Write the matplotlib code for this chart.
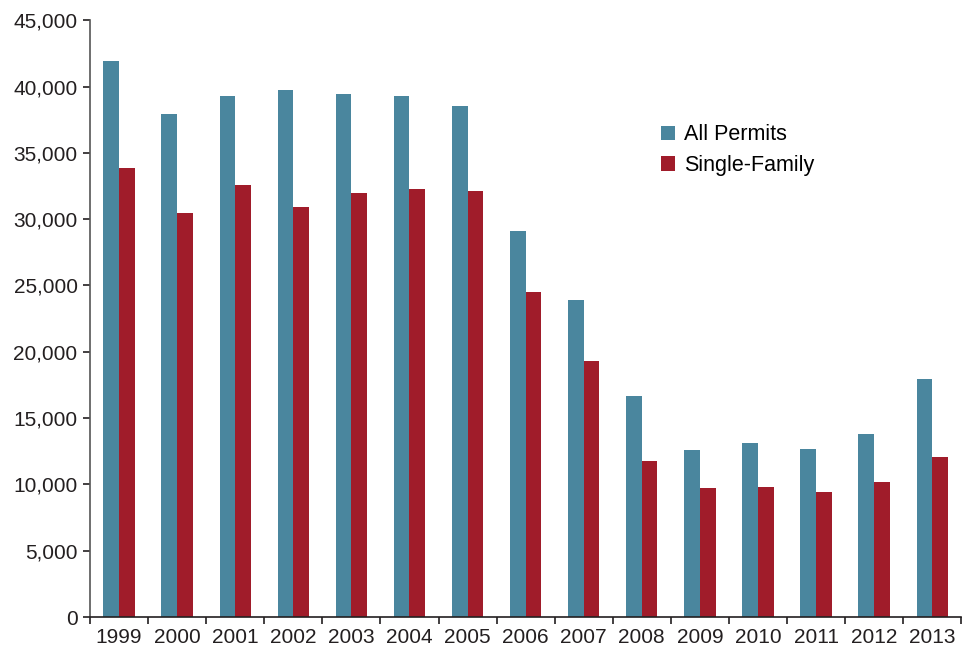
import matplotlib.pyplot as plt
import numpy as np
from matplotlib.ticker import FuncFormatter

plt.rcParams['font.family'] = ['Liberation Sans', 'DejaVu Sans']

years = ['1999', '2000', '2001', '2002', '2003', '2004', '2005', '2006',
         '2007', '2008', '2009', '2010', '2011', '2012', '2013']
all_permits = [41900, 37900, 39300, 39700, 39450, 39300, 38550, 29100,
               23900, 16650, 12600, 13100, 12650, 13800, 17950]
single_family = [33850, 30500, 32550, 30900, 31950, 32250, 32150, 24500,
                 19300, 11800, 9700, 9800, 9400, 10150, 12100]

teal = '#4a869e'
red = '#a01c2a'

fig = plt.figure(figsize=(9.68, 6.51), dpi=100)
ax = fig.add_axes([0.093, 0.052, 0.9, 0.917])

x = np.arange(len(years))
w = 0.27
ax.bar(x - w / 2, all_permits, w, color=teal, label='All Permits')
ax.bar(x + w / 2, single_family, w, color=red, label='Single-Family')

ax.set_xlim(-0.5, len(years) - 0.5)
ax.set_ylim(0, 45000)
ax.set_yticks(np.arange(0, 45001, 5000))
ax.yaxis.set_major_formatter(FuncFormatter(lambda v, p: f'{int(v):,}'))

ax.set_xticks(x)
ax.set_xticklabels(years)
ax.set_xticks(np.arange(-0.5, len(years)), minor=True)
ax.tick_params(axis='x', which='major', length=0, pad=8, labelsize=15, colors='#231f20')
ax.tick_params(axis='x', which='minor', length=5, width=1.2, direction='out', color='#231f20')
ax.tick_params(axis='y', length=5, width=1.2, labelsize=15, colors='#231f20', pad=4)

for s in ['top', 'right']:
    ax.spines[s].set_visible(False)
ax.spines['left'].set_color('#555555')
ax.spines['left'].set_linewidth(1.2)
ax.spines['bottom'].set_color('#231f20')
ax.spines['bottom'].set_linewidth(1.2)

ax.legend(loc='upper left', bbox_to_anchor=(0.645, 0.84), frameon=False,
          borderaxespad=0, fontsize=15.5, handlelength=0.65, handleheight=0.65,
          handletextpad=0.45, labelspacing=0.45)

fig.savefig('out.png', dpi=100)
